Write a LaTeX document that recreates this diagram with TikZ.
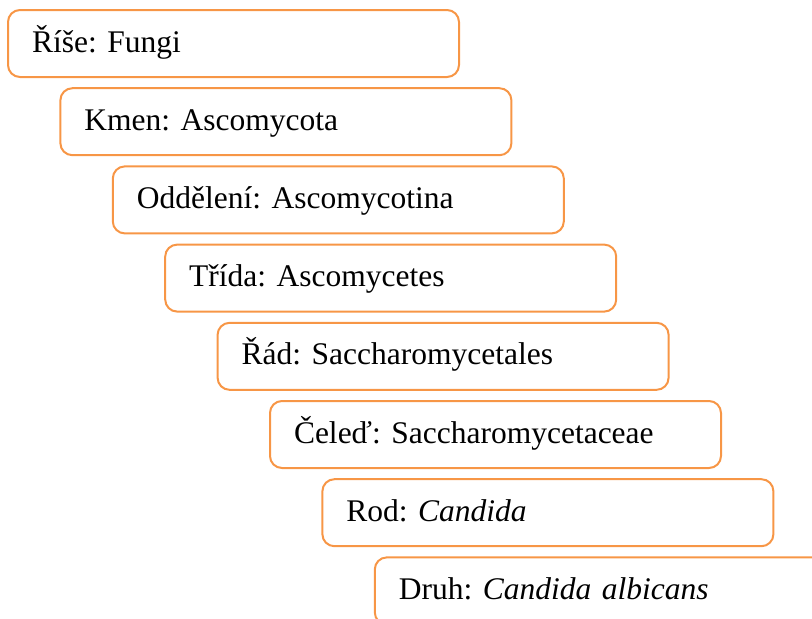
\documentclass[tikz,border=0pt]{standalone}
\usepackage{fontspec}
\setmainfont{Liberation Serif}
\usepackage{tikz}
\frenchspacing
\definecolor{boxorange}{RGB}{247,150,70}
\tikzset{
  taxbox/.style = {draw=boxorange,line width=2pt,rounded corners=12pt,
    anchor=north west,outer sep=0pt,inner xsep=24pt,text width=403pt,
    align=left,minimum height=67pt,text height=23pt,text depth=6pt,
    font=\fontsize{31.5}{38}\selectfont},
  nextstep/.style = {shift={(52.4,78.2)}}
}
\begin{document}
\begin{tikzpicture}[x=1pt,y=-1pt]
  \useasboundingbox (0,0) rectangle (812,619);
  \clip (0,0) rectangle (812,619);
  \node[taxbox] (rise)     at (8,10) {Říše: Fungi};
  \node[taxbox] (kmen)     at ([nextstep]rise.north west) {Kmen: Ascomycota};
  \node[taxbox] (oddeleni) at ([nextstep]kmen.north west) {Oddělení: Ascomycotina};
  \node[taxbox] (trida)    at ([nextstep]oddeleni.north west) {Třída: Ascomycetes};
  \node[taxbox] (rad)      at ([nextstep]trida.north west) {Řád: Saccharomycetales};
  \node[taxbox] (celed)    at ([nextstep]rad.north west) {Čeleď: Saccharomycetaceae};
  \node[taxbox] (rod)      at ([nextstep]celed.north west) {Rod: \textit{Candida}};
  \node[taxbox] (druh)     at ([nextstep]rod.north west) {Druh: \textit{Candida albicans}};
\end{tikzpicture}
\end{document}
